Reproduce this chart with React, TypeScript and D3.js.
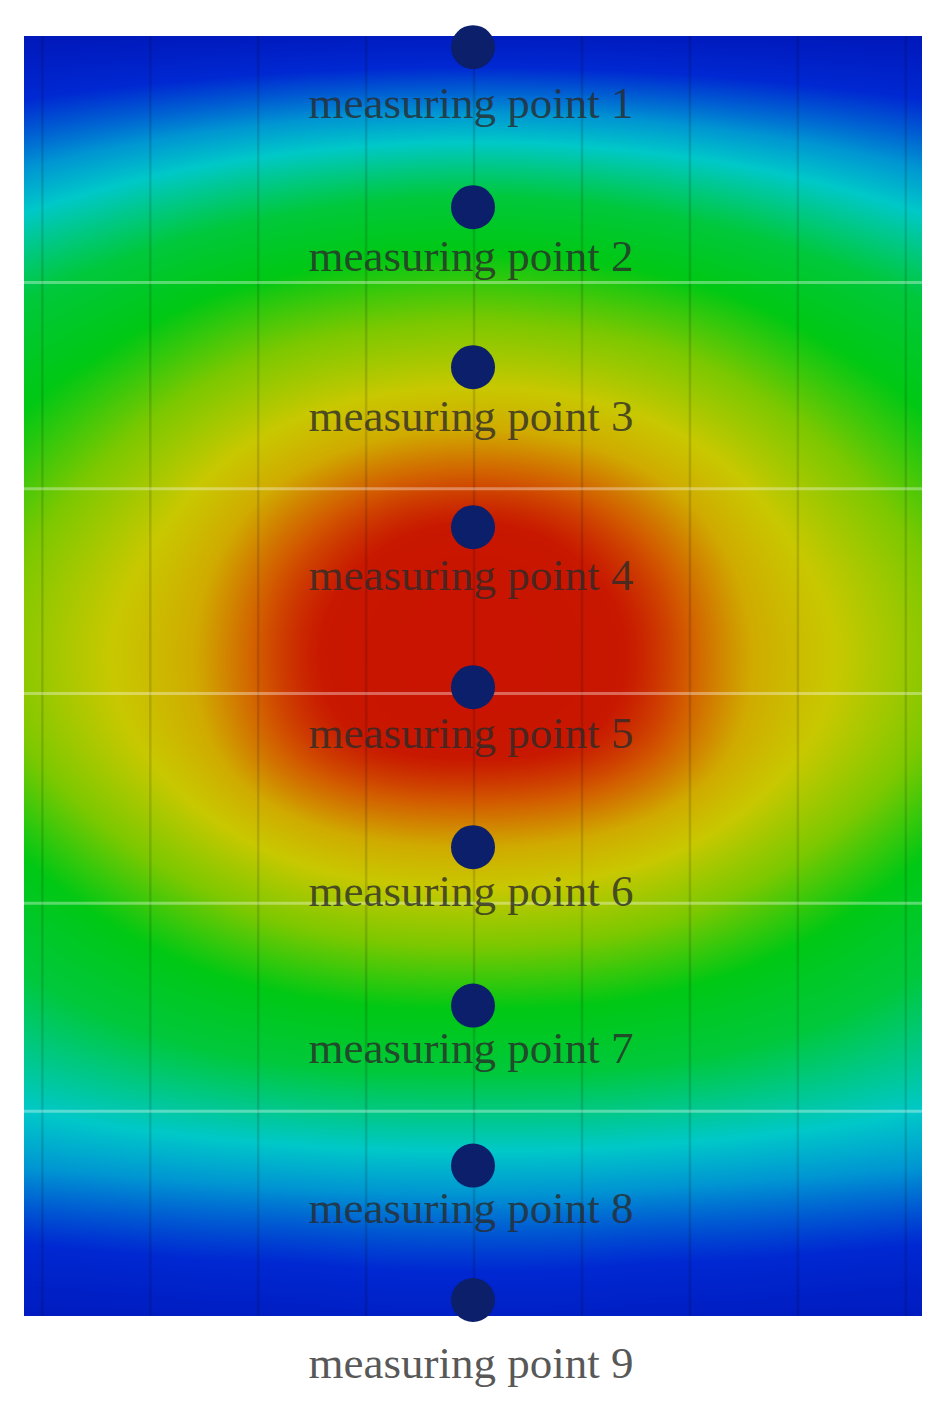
import { useRef, useEffect } from 'react';
import * as d3 from 'd3';

// plate outline, in plate units (1 unit = one point spacing)
const plateWidth = 8.32;
const plateHeight = 8;

// measuring points along the centre column (plate units from top)
const pointNames = [
  'measuring point 1',
  'measuring point 2',
  'measuring point 3',
  'measuring point 4',
  'measuring point 5',
  'measuring point 6',
  'measuring point 7',
  'measuring point 8',
  'measuring point 9',
];
const pointPos = [0.07, 1.07, 2.07, 3.07, 4.07, 5.07, 6.06, 7.06, 7.9];
const labelPos = [0.51, 1.47, 2.47, 3.46, 4.45, 5.44, 6.42, 7.42, 8.39];
const columnX = 4.16;

// panel joints seen on the plate
const verticalJoints = [0.17, 1.17, 2.17, 3.17, 4.17, 5.17, 6.17, 7.17, 8.17];
const horizontalJoints = [1.54, 2.83, 4.11, 5.42, 6.72];

// relative temperature: 17 rows (top to bottom) x 11 columns (left to right)
const fieldRows = [
  [0.02, 0.025, 0.03, 0.035, 0.04, 0.04, 0.04, 0.035, 0.03, 0.025, 0.02],
  [0.12, 0.14, 0.16, 0.18, 0.19, 0.2, 0.19, 0.18, 0.16, 0.14, 0.12],
  [0.24, 0.29, 0.34, 0.38, 0.41, 0.42, 0.41, 0.38, 0.34, 0.29, 0.24],
  [0.38, 0.43, 0.48, 0.51, 0.53, 0.54, 0.53, 0.51, 0.48, 0.43, 0.38],
  [0.46, 0.51, 0.57, 0.62, 0.64, 0.65, 0.64, 0.62, 0.57, 0.51, 0.46],
  [0.52, 0.59, 0.66, 0.72, 0.77, 0.79, 0.77, 0.72, 0.66, 0.59, 0.52],
  [0.58, 0.65, 0.73, 0.85, 0.96, 0.99, 0.96, 0.85, 0.73, 0.65, 0.58],
  [0.62, 0.7, 0.77, 0.95, 1.0, 1.0, 1.0, 0.95, 0.77, 0.7, 0.62],
  [0.63, 0.71, 0.78, 0.96, 1.0, 1.0, 1.0, 0.96, 0.78, 0.71, 0.63],
  [0.6, 0.68, 0.76, 0.92, 0.99, 1.0, 0.99, 0.92, 0.76, 0.68, 0.6],
  [0.52, 0.6, 0.67, 0.74, 0.79, 0.8, 0.79, 0.74, 0.67, 0.6, 0.52],
  [0.45, 0.51, 0.57, 0.62, 0.64, 0.65, 0.64, 0.62, 0.57, 0.51, 0.45],
  [0.38, 0.43, 0.47, 0.5, 0.52, 0.52, 0.52, 0.5, 0.47, 0.43, 0.38],
  [0.31, 0.34, 0.37, 0.39, 0.4, 0.4, 0.4, 0.39, 0.37, 0.34, 0.31],
  [0.22, 0.23, 0.24, 0.25, 0.26, 0.26, 0.26, 0.25, 0.24, 0.23, 0.22],
  [0.1, 0.11, 0.12, 0.12, 0.13, 0.13, 0.13, 0.12, 0.12, 0.11, 0.1],
  [0.04, 0.04, 0.05, 0.05, 0.06, 0.06, 0.06, 0.05, 0.05, 0.04, 0.04],
];

// jet-like colour map
const colorDomain = [0, 0.1, 0.2, 0.27, 0.4, 0.5, 0.6, 0.7, 0.78, 0.88, 0.96, 1.0];
const colorRange = [
  '#0014b4', '#0028d2', '#0096d2', '#00c8c8', '#00c83c', '#00c814',
  '#7cc800', '#c8c800', '#d0aa00', '#d25a00', '#c81800', '#c81400',
];

export default function App() {
  const imgRef = useRef<SVGImageElement>(null);

  const width = 942,
    height = 1415,
    left = 24,
    right = 922,
    top = 36,
    bottom = 1316;

  const x = d3.scaleLinear().domain([0, plateWidth]).range([left, right]);
  const y = d3.scaleLinear().domain([0, plateHeight]).range([top, bottom]);
  const color = d3
    .scaleLinear<string>()
    .domain(colorDomain)
    .range(colorRange)
    .interpolate(d3.interpolateRgb)
    .clamp(true);

  const pw = Math.round(right - left),
    ph = Math.round(bottom - top);

  useEffect(() => {
    const canvas = document.createElement('canvas');
    canvas.width = pw;
    canvas.height = ph;
    const ctx = canvas.getContext('2d')!;
    const img = ctx.createImageData(pw, ph);
    const rowInterp = fieldRows.map((r) => d3.interpolateBasis(r));
    for (let px = 0; px < pw; px++) {
      const u = px / (pw - 1);
      const col = d3.interpolateBasis(rowInterp.map((f) => f(u)));
      for (let py = 0; py < ph; py++) {
        const c = d3.rgb(color(col(py / (ph - 1))));
        const k = (py * pw + px) * 4;
        img.data[k] = c.r;
        img.data[k + 1] = c.g;
        img.data[k + 2] = c.b;
        img.data[k + 3] = 255;
      }
    }
    ctx.putImageData(img, 0, 0);
    d3.select(imgRef.current).attr('href', canvas.toDataURL());
  }, []);

  return (
    <svg
      width={width}
      height={height}
      style={{ position: 'absolute', left: 0, top: 0, background: '#fff' }}
    >
      <image
        ref={imgRef}
        x={x(0)}
        y={y(0)}
        width={pw}
        height={ph}
        preserveAspectRatio="none"
      />

      {verticalJoints.map((v, i) => (
        <line
          key={'v' + i}
          x1={x(v)}
          x2={x(v)}
          y1={y(0)}
          y2={y(plateHeight)}
          stroke="#000"
          strokeOpacity={0.13}
          strokeWidth={2.5}
        />
      ))}
      {horizontalJoints.map((h, i) => (
        <line
          key={'h' + i}
          x1={x(0)}
          x2={x(plateWidth)}
          y1={y(h)}
          y2={y(h)}
          stroke="#fff"
          strokeOpacity={0.35}
          strokeWidth={3}
        />
      ))}

      {pointPos.map((p, i) => (
        <circle key={'p' + i} cx={x(columnX)} cy={y(p)} r={22} fill="#0b1f6b" />
      ))}

      {pointNames.map((name, i) => (
        <text
          key={'t' + i}
          x={x(columnX) - 2}
          y={y(labelPos[i])}
          textAnchor="middle"
          fontFamily="'Liberation Serif', 'Times New Roman', serif"
          fontSize={45}
          fill="#2a2a2a"
          fillOpacity={0.8}
        >
          {name}
        </text>
      ))}
    </svg>
  );
}
